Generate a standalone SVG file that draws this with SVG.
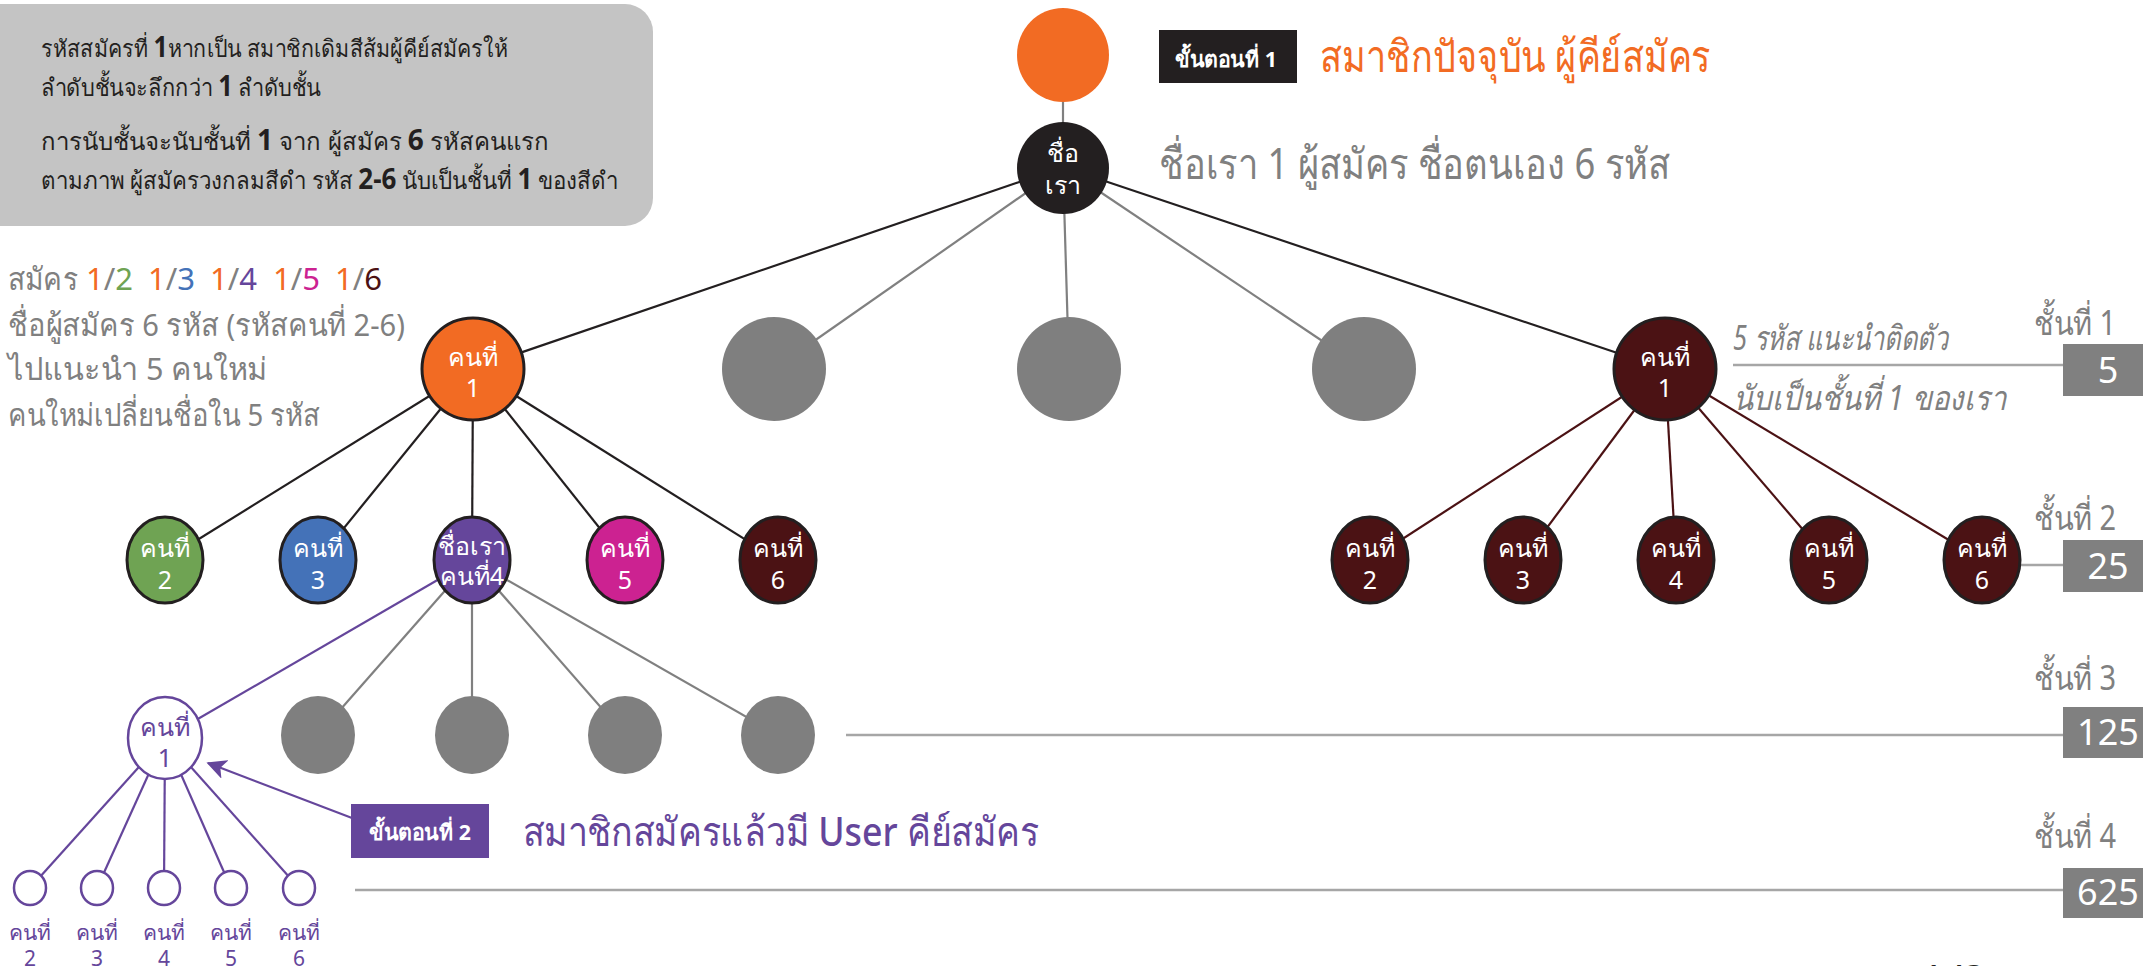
<svg xmlns="http://www.w3.org/2000/svg" width="2143" height="966" viewBox="0 0 2143 966">
<defs>
<style>
text{font-family:"Noto Sans","Liberation Sans",sans-serif;}
.nt{fill:#fff;font-size:25px;text-anchor:middle;}
.box{fill:#231f20;font-size:24px;}
.b{font-weight:bold;font-size:28px;}
.gl{fill:#808080;font-size:31px;}
.lvl{fill:#808080;font-size:34px;}
.num{fill:#fff;font-size:36px;text-anchor:middle;}
.e{stroke-width:2.2;fill:none;}
.k{stroke:#231f20;}
.g{stroke:#808080;}
.r{stroke:#4b1214;}
.p{stroke:#65469b;}
.st{stroke:#231f20;stroke-width:3;}
.pl{font-size:21px;fill:#65469b;text-anchor:middle;}
</style>
<marker id="ah" viewBox="0 0 12 12" refX="11" refY="6" markerWidth="9" markerHeight="9" orient="auto" markerUnits="strokeWidth">
<path d="M0,0 L12,6 L0,12 L3,6 z" fill="#65469b"/>
</marker>
</defs>
<rect width="2143" height="966" fill="#fff"/>

<g id="note-box">
<rect x="-30" y="4" width="683" height="222" rx="28" fill="#c4c4c4"/>
<text class="box" x="41" y="57" textLength="467" lengthAdjust="spacingAndGlyphs">รหัสสมัครที่ <tspan class="b">1</tspan>หากเป็น สมาชิกเดิมสีส้มผู้คีย์สมัครให้</text>
<text class="box" x="41" y="96" textLength="280" lengthAdjust="spacingAndGlyphs">ลำดับชั้นจะลึกกว่า <tspan class="b">1</tspan> ลำดับชั้น</text>
<text class="box" x="41" y="150" textLength="508" lengthAdjust="spacingAndGlyphs">การนับชั้นจะนับชั้นที่ <tspan class="b">1</tspan> จาก ผู้สมัคร <tspan class="b">6</tspan> รหัสคนแรก</text>
<text class="box" x="41" y="189" textLength="577" lengthAdjust="spacingAndGlyphs">ตามภาพ ผู้สมัครวงกลมสีดำ รหัส <tspan class="b">2-6</tspan> นับเป็นชั้นที่ <tspan class="b">1</tspan> ของสีดำ</text>
</g>

<g id="left-notes">
<text class="gl" x="8" y="290" textLength="70" lengthAdjust="spacingAndGlyphs">สมัคร</text>
<text class="gl" x="86" y="290"><tspan fill="#f26b23">1</tspan>/<tspan fill="#6fa353">2</tspan></text>
<text class="gl" x="148" y="290"><tspan fill="#f26b23">1</tspan>/<tspan fill="#4472b8">3</tspan></text>
<text class="gl" x="210" y="290"><tspan fill="#f26b23">1</tspan>/<tspan fill="#65469b">4</tspan></text>
<text class="gl" x="273" y="290"><tspan fill="#f26b23">1</tspan>/<tspan fill="#cc2291">5</tspan></text>
<text class="gl" x="335" y="290"><tspan fill="#f26b23">1</tspan>/<tspan fill="#4b1214">6</tspan></text>
<text class="gl" x="8" y="336" textLength="397" lengthAdjust="spacingAndGlyphs">ชื่อผู้สมัคร 6 รหัส (รหัสคนที่ 2-6)</text>
<text class="gl" x="8" y="380" textLength="259" lengthAdjust="spacingAndGlyphs">ไปแนะนำ 5  คนใหม่</text>
<text class="gl" x="8" y="426" textLength="312" lengthAdjust="spacingAndGlyphs">คนใหม่เปลี่ยนชื่อใน 5 รหัส</text>
</g>

<g id="connectors">
<line class="e g" x1="1063" y1="55" x2="1063" y2="167"/>
<line class="e k" stroke-width="2.6" x1="1063" y1="167" x2="473" y2="369"/>
<line class="e g" x1="1063" y1="167" x2="774" y2="369"/>
<line class="e g" x1="1063" y1="167" x2="1069" y2="369"/>
<line class="e g" x1="1063" y1="167" x2="1364" y2="369"/>
<line class="e k" stroke-width="2.6" x1="1063" y1="167" x2="1665" y2="369"/>
<line class="e k" x1="473" y1="369" x2="165" y2="560"/>
<line class="e k" x1="473" y1="369" x2="318" y2="560"/>
<line class="e k" x1="473" y1="369" x2="472" y2="560"/>
<line class="e k" x1="473" y1="369" x2="625" y2="560"/>
<line class="e k" x1="473" y1="369" x2="778" y2="560"/>
<line class="e r" x1="1665" y1="369" x2="1370" y2="560"/>
<line class="e r" x1="1665" y1="369" x2="1523" y2="560"/>
<line class="e r" x1="1665" y1="369" x2="1676" y2="560"/>
<line class="e r" x1="1665" y1="369" x2="1829" y2="560"/>
<line class="e r" x1="1665" y1="369" x2="1982" y2="560"/>
<line class="e p" x1="472" y1="560" x2="165" y2="738"/>
<line class="e g" x1="472" y1="560" x2="318" y2="735"/>
<line class="e g" x1="472" y1="560" x2="472" y2="735"/>
<line class="e g" x1="472" y1="560" x2="625" y2="735"/>
<line class="e g" x1="472" y1="560" x2="778" y2="735"/>
<line class="e p" x1="165" y1="738" x2="30" y2="888"/>
<line class="e p" x1="165" y1="738" x2="97" y2="888"/>
<line class="e p" x1="165" y1="738" x2="164" y2="888"/>
<line class="e p" x1="165" y1="738" x2="231" y2="888"/>
<line class="e p" x1="165" y1="738" x2="299" y2="888"/>
<line class="e p" stroke-width="3" x1="352" y1="818" x2="208" y2="763" marker-end="url(#ah)"/>
<line stroke="#a6a6a6" stroke-width="2.5" x1="1733" y1="365" x2="2063" y2="365"/>
<line stroke="#a6a6a6" stroke-width="2.5" x1="2020" y1="565" x2="2063" y2="565"/>
<line stroke="#a6a6a6" stroke-width="2.5" x1="846" y1="735" x2="2063" y2="735"/>
<line stroke="#a6a6a6" stroke-width="2.5" x1="355" y1="890" x2="2063" y2="890"/>
</g>

<g id="node-top">
<ellipse cx="1063" cy="55" rx="46" ry="47" fill="#f26b23"/>
</g>
<g id="node-root">
<ellipse cx="1063" cy="168" rx="46" ry="46" fill="#231f20"/>
<text class="nt" x="1063" y="162" font-size="27">ชื่อ</text>
<text class="nt" x="1063" y="194" font-size="27">เรา</text>
</g>

<g id="step1">
<rect x="1159" y="30" width="138" height="53" fill="#231f20"/>
<text x="1175" y="67" fill="#fff" font-size="22" font-weight="bold" textLength="102" lengthAdjust="spacingAndGlyphs">ขั้นตอนที่ 1</text>
<text x="1320" y="72" fill="#f26b23" font-size="44" font-weight="500" textLength="391" lengthAdjust="spacingAndGlyphs">สมาชิกปัจจุบัน ผู้คีย์สมัคร</text>
<text x="1159" y="179" fill="#808080" font-size="43" textLength="511" lengthAdjust="spacingAndGlyphs">ชื่อเรา 1 ผู้สมัคร ชื่อตนเอง 6 รหัส</text>
</g>

<g id="l1-orange">
<circle cx="473" cy="369" r="51" fill="#f26b23" class="st"/>
<text class="nt" x="473" y="366">คนที่</text>
<text class="nt" x="473" y="397">1</text>
</g>
<g id="l1-gray-a"><circle cx="774" cy="369" r="52" fill="#7f7f7f"/></g>
<g id="l1-gray-b"><circle cx="1069" cy="369" r="52" fill="#7f7f7f"/></g>
<g id="l1-gray-c"><circle cx="1364" cy="369" r="52" fill="#7f7f7f"/></g>
<g id="l1-red">
<circle cx="1665" cy="369" r="51" fill="#4b1214" class="st"/>
<text class="nt" x="1665" y="366">คนที่</text>
<text class="nt" x="1665" y="397">1</text>
</g>

<g id="l2-2"><ellipse cx="165" cy="560" rx="38" ry="43" fill="#6fa353" class="st"/><text class="nt" x="165" y="557">คนที่</text><text class="nt" x="165" y="589">2</text></g>
<g id="l2-3"><ellipse cx="318" cy="560" rx="38" ry="43" fill="#4472b8" class="st"/><text class="nt" x="318" y="557">คนที่</text><text class="nt" x="318" y="589">3</text></g>
<g id="l2-4"><ellipse cx="472" cy="560" rx="38" ry="43" fill="#65469b" class="st"/><text class="nt" x="472" y="555" font-size="21">ชื่อเรา</text><text class="nt" x="472" y="585" font-size="21">คนที่4</text></g>
<g id="l2-5"><ellipse cx="625" cy="560" rx="38" ry="43" fill="#cc2291" class="st"/><text class="nt" x="625" y="557">คนที่</text><text class="nt" x="625" y="589">5</text></g>
<g id="l2-6"><ellipse cx="778" cy="560" rx="38" ry="43" fill="#4b1214" class="st"/><text class="nt" x="778" y="557">คนที่</text><text class="nt" x="778" y="589">6</text></g>

<g id="r2-2"><ellipse cx="1370" cy="560" rx="38" ry="43" fill="#4b1214" class="st"/><text class="nt" x="1370" y="557">คนที่</text><text class="nt" x="1370" y="589">2</text></g>
<g id="r2-3"><ellipse cx="1523" cy="560" rx="38" ry="43" fill="#4b1214" class="st"/><text class="nt" x="1523" y="557">คนที่</text><text class="nt" x="1523" y="589">3</text></g>
<g id="r2-4"><ellipse cx="1676" cy="560" rx="38" ry="43" fill="#4b1214" class="st"/><text class="nt" x="1676" y="557">คนที่</text><text class="nt" x="1676" y="589">4</text></g>
<g id="r2-5"><ellipse cx="1829" cy="560" rx="38" ry="43" fill="#4b1214" class="st"/><text class="nt" x="1829" y="557">คนที่</text><text class="nt" x="1829" y="589">5</text></g>
<g id="r2-6"><ellipse cx="1982" cy="560" rx="38" ry="43" fill="#4b1214" class="st"/><text class="nt" x="1982" y="557">คนที่</text><text class="nt" x="1982" y="589">6</text></g>

<g id="l3-1"><ellipse cx="165" cy="738" rx="37" ry="41" fill="#fff" stroke="#65469b" stroke-width="2.5"/><text class="nt" x="165" y="736" style="fill:#65469b">คนที่</text><text class="nt" x="165" y="767" style="fill:#65469b">1</text></g>
<g id="l3-g1"><ellipse cx="318" cy="735" rx="37" ry="39" fill="#7f7f7f"/></g>
<g id="l3-g2"><ellipse cx="472" cy="735" rx="37" ry="39" fill="#7f7f7f"/></g>
<g id="l3-g3"><ellipse cx="625" cy="735" rx="37" ry="39" fill="#7f7f7f"/></g>
<g id="l3-g4"><ellipse cx="778" cy="735" rx="37" ry="39" fill="#7f7f7f"/></g>

<g id="l4-2"><ellipse cx="30" cy="888" rx="16" ry="17" fill="#fff" stroke="#65469b" stroke-width="2.5"/><text class="pl" x="30" y="940">คนที่</text><text class="pl" x="30" y="966">2</text></g>
<g id="l4-3"><ellipse cx="97" cy="888" rx="16" ry="17" fill="#fff" stroke="#65469b" stroke-width="2.5"/><text class="pl" x="97" y="940">คนที่</text><text class="pl" x="97" y="966">3</text></g>
<g id="l4-4"><ellipse cx="164" cy="888" rx="16" ry="17" fill="#fff" stroke="#65469b" stroke-width="2.5"/><text class="pl" x="164" y="940">คนที่</text><text class="pl" x="164" y="966">4</text></g>
<g id="l4-5"><ellipse cx="231" cy="888" rx="16" ry="17" fill="#fff" stroke="#65469b" stroke-width="2.5"/><text class="pl" x="231" y="940">คนที่</text><text class="pl" x="231" y="966">5</text></g>
<g id="l4-6"><ellipse cx="299" cy="888" rx="16" ry="17" fill="#fff" stroke="#65469b" stroke-width="2.5"/><text class="pl" x="299" y="940">คนที่</text><text class="pl" x="299" y="966">6</text></g>

<g id="step2">
<rect x="351" y="804" width="138" height="54" fill="#65469b"/>
<text x="369" y="840" fill="#fff" font-size="22" font-weight="bold" textLength="102" lengthAdjust="spacingAndGlyphs">ขั้นตอนที่ 2</text>
<text x="523" y="846" fill="#65469b" font-size="40" font-weight="500" textLength="516" lengthAdjust="spacingAndGlyphs">สมาชิกสมัครแล้วมี User คีย์สมัคร</text>
</g>

<g id="level1-note">
<text x="1733" y="350" fill="#808080" font-size="34" font-style="italic" textLength="215" lengthAdjust="spacingAndGlyphs">5 รหัส แนะนำติดตัว</text>
<text x="1733" y="410" fill="#808080" font-size="34" font-style="italic" textLength="273" lengthAdjust="spacingAndGlyphs">นับเป็นชั้นที่ 1 ของเรา</text>
</g>

<g id="level-1"><text class="lvl" x="2034" y="335" textLength="82" lengthAdjust="spacingAndGlyphs">ชั้นที่ 1</text><rect x="2063" y="344" width="80" height="52" fill="#808080"/><text class="num" x="2108" y="383">5</text></g>
<g id="level-2"><text class="lvl" x="2034" y="530" textLength="82" lengthAdjust="spacingAndGlyphs">ชั้นที่ 2</text><rect x="2063" y="540" width="80" height="52" fill="#808080"/><text class="num" x="2108" y="579">25</text></g>
<g id="level-3"><text class="lvl" x="2034" y="690" textLength="82" lengthAdjust="spacingAndGlyphs">ชั้นที่ 3</text><rect x="2063" y="707" width="80" height="51" fill="#808080"/><text class="num" x="2108" y="745">125</text></g>
<g id="level-4"><text class="lvl" x="2034" y="848" textLength="82" lengthAdjust="spacingAndGlyphs">ชั้นที่ 4</text><rect x="2063" y="868" width="80" height="50" fill="#808080"/><text class="num" x="2108" y="905">625</text></g>

<text x="1920" y="996" font-size="44" fill="#231f20">1/2</text>
</svg>
